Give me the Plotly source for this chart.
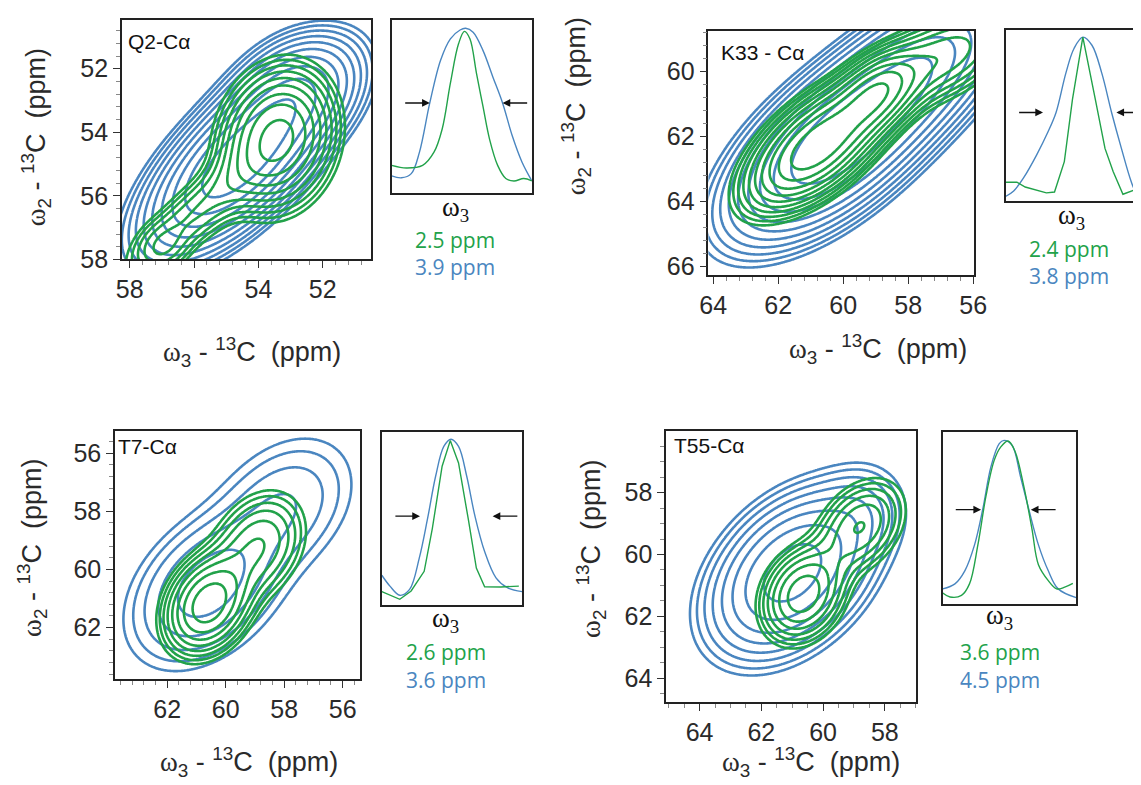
import numpy as np
import plotly.graph_objects as go

W, H = 1141, 785
BLUE = "#4a86c0"
GREEN = "#22a24a"
TXT = "#2a2a2a"

# ---------------- main 2D panels ----------------
PANEL_LABELS = ["Q2-Cα", "K33 - Cα", "T7-Cα", "T55-Cα"]
X_RANGES = [[58.24, 50.5], [64.15, 55.97], [63.78, 55.4], [65.08, 56.98]]
Y_RANGES = [[58.0, 50.46], [66.28, 58.75], [63.76, 55.25], [64.78, 56.02]]
MINOR_STEP = [0.4, 0.4, 0.4, 0.5]

# peak components (ppm): centre x, centre y, sigma major, sigma minor, angle (deg), amplitude
Q2_BLUE_X0 = [54.6, 52.7]; Q2_BLUE_Y0 = [54.9, 52.5]; Q2_BLUE_SMAJ = [2.3, 1.3]; Q2_BLUE_SMIN = [1.0, 1.0]
Q2_BLUE_ANG = [45, 30]; Q2_BLUE_AMP = [1.0, 0.3]; Q2_BLUE_LEV = [-1.02, -0.09, 10]
Q2_GREEN_X0 = [53.4, 56.0, 57.0]; Q2_GREEN_Y0 = [54.2, 56.6, 57.7]; Q2_GREEN_SMAJ = [1.25, 1.8, 0.5]
Q2_GREEN_SMIN = [0.95, 0.55, 0.5]; Q2_GREEN_ANG = [75, 42, 0]; Q2_GREEN_AMP = [1.0, 0.3, 0.12]
Q2_GREEN_LEV = [-1.0, -0.04, 9]

K33_BLUE_X0 = [60.3, 57.5]; K33_BLUE_Y0 = [62.3, 59.8]; K33_BLUE_SMAJ = [2.2, 2.0]; K33_BLUE_SMIN = [1.05, 1.0]
K33_BLUE_ANG = [40, 40]; K33_BLUE_AMP = [1.0, 0.6]; K33_BLUE_LEV = [-1.15, -0.1, 10]
K33_GREEN_X0 = [60.8, 58.9, 56.8]; K33_GREEN_Y0 = [62.3, 60.6, 59.5]; K33_GREEN_SMAJ = [1.6, 0.9, 1.5]
K33_GREEN_SMIN = [0.78, 0.6, 0.8]; K33_GREEN_ANG = [40, 45, 30]; K33_GREEN_AMP = [1.0, 0.5, 0.4]
K33_GREEN_LEV = [-0.92, -0.08, 10]

T7_BLUE_X0 = [60.6, 58.1]; T7_BLUE_Y0 = [60.6, 57.9]; T7_BLUE_SMAJ = [1.5, 1.5]; T7_BLUE_SMIN = [1.0, 1.05]
T7_BLUE_ANG = [45, 45]; T7_BLUE_AMP = [1.0, 0.42]; T7_BLUE_LEV = [-1.12, -0.14, 5]
T7_GREEN_X0 = [60.6, 58.9]; T7_GREEN_Y0 = [61.2, 59.2]; T7_GREEN_SMAJ = [0.95, 1.1]; T7_GREEN_SMIN = [0.7, 0.8]
T7_GREEN_ANG = [60, 60]; T7_GREEN_AMP = [1.0, 0.4]; T7_GREEN_LEV = [-1.15, -0.1, 8]

T55_BLUE_X0 = [61.0, 58.7]; T55_BLUE_Y0 = [60.6, 58.6]; T55_BLUE_SMAJ = [1.6, 0.9]; T55_BLUE_SMIN = [1.05, 0.8]
T55_BLUE_ANG = [45, 70]; T55_BLUE_AMP = [1.0, 0.12]; T55_BLUE_LEV = [-1.3, -0.1, 8]
T55_GREEN_X0 = [60.65, 58.8]; T55_GREEN_Y0 = [61.3, 59.1]; T55_GREEN_SMAJ = [0.9, 1.0]; T55_GREEN_SMIN = [0.7, 0.7]
T55_GREEN_ANG = [60, 50]; T55_GREEN_AMP = [1.0, 0.6]; T55_GREEN_LEV = [-0.9, -0.09, 7]

PEAKS = [
    ((Q2_BLUE_X0, Q2_BLUE_Y0, Q2_BLUE_SMAJ, Q2_BLUE_SMIN, Q2_BLUE_ANG, Q2_BLUE_AMP), Q2_BLUE_LEV,
     (Q2_GREEN_X0, Q2_GREEN_Y0, Q2_GREEN_SMAJ, Q2_GREEN_SMIN, Q2_GREEN_ANG, Q2_GREEN_AMP), Q2_GREEN_LEV),
    ((K33_BLUE_X0, K33_BLUE_Y0, K33_BLUE_SMAJ, K33_BLUE_SMIN, K33_BLUE_ANG, K33_BLUE_AMP), K33_BLUE_LEV,
     (K33_GREEN_X0, K33_GREEN_Y0, K33_GREEN_SMAJ, K33_GREEN_SMIN, K33_GREEN_ANG, K33_GREEN_AMP), K33_GREEN_LEV),
    ((T7_BLUE_X0, T7_BLUE_Y0, T7_BLUE_SMAJ, T7_BLUE_SMIN, T7_BLUE_ANG, T7_BLUE_AMP), T7_BLUE_LEV,
     (T7_GREEN_X0, T7_GREEN_Y0, T7_GREEN_SMAJ, T7_GREEN_SMIN, T7_GREEN_ANG, T7_GREEN_AMP), T7_GREEN_LEV),
    ((T55_BLUE_X0, T55_BLUE_Y0, T55_BLUE_SMAJ, T55_BLUE_SMIN, T55_BLUE_ANG, T55_BLUE_AMP), T55_BLUE_LEV,
     (T55_GREEN_X0, T55_GREEN_Y0, T55_GREEN_SMAJ, T55_GREEN_SMIN, T55_GREEN_ANG, T55_GREEN_AMP), T55_GREEN_LEV),
]

# ---------------- 1D slices (fractional positions inside inset frame) ----------------
I1_BX = [0, 0.070, 0.140, 0.198, 0.272, 0.349, 0.419, 0.488, 0.528, 0.581, 0.651, 0.721, 0.791, 0.860, 0.930, 1.0]
I1_BY = [0.097, 0.086, 0.110, 0.233, 0.519, 0.766, 0.890, 0.941, 0.951, 0.928, 0.823, 0.671, 0.519, 0.329, 0.176, 0.068]
I1_GX = [0, 0.105, 0.221, 0.302, 0.360, 0.419, 0.477, 0.519, 0.558, 0.605, 0.651, 0.698, 0.756, 0.814, 0.872, 0.942, 1.0]
I1_GY = [0.158, 0.143, 0.158, 0.234, 0.367, 0.633, 0.861, 0.933, 0.890, 0.690, 0.500, 0.310, 0.158, 0.082, 0.067, 0.082, 0.068]

I2_BX = [0, 0.058, 0.128, 0.221, 0.302, 0.360, 0.430, 0.488, 0.551, 0.616, 0.686, 0.756, 0.826, 0.895, 0.926, 1.0]
I2_BY = [0.029, 0.061, 0.137, 0.270, 0.404, 0.518, 0.747, 0.890, 0.956, 0.909, 0.747, 0.518, 0.309, 0.118, 0.061, 0.013]
I2_GX = [0, 0.081, 0.140, 0.221, 0.291, 0.349, 0.419, 0.477, 0.551, 0.640, 0.709, 0.767, 0.837, 0.926, 1.0]
I2_GY = [0.112, 0.112, 0.084, 0.067, 0.050, 0.055, 0.232, 0.594, 0.956, 0.594, 0.309, 0.175, 0.042, 0.070, 0.090]

I3_BX = [0, 0.058, 0.128, 0.198, 0.267, 0.326, 0.384, 0.442, 0.493, 0.547, 0.605, 0.663, 0.733, 0.814, 0.895, 1.0]
I3_BY = [0.173, 0.110, 0.057, 0.091, 0.272, 0.500, 0.747, 0.918, 0.960, 0.918, 0.747, 0.519, 0.310, 0.158, 0.101, 0.078]
I3_GX = [0, 0.128, 0.209, 0.302, 0.360, 0.430, 0.488, 0.547, 0.616, 0.674, 0.733, 0.849, 0.977]
I3_GY = [0.078, 0.034, 0.082, 0.196, 0.443, 0.804, 0.952, 0.823, 0.500, 0.215, 0.106, 0.105, 0.110]

I4_BX = [0, 0.091, 0.165, 0.238, 0.300, 0.361, 0.423, 0.459, 0.520, 0.582, 0.644, 0.717, 0.791, 0.865, 1.0]
I4_BY = [0.089, 0.118, 0.194, 0.345, 0.554, 0.800, 0.934, 0.953, 0.924, 0.744, 0.554, 0.345, 0.194, 0.089, 0.038]
I4_GX = [0, 0.054, 0.140, 0.200, 0.263, 0.324, 0.386, 0.435, 0.489, 0.538, 0.607, 0.668, 0.717, 0.791, 0.853, 0.914, 0.975]
I4_GY = [0.065, 0.042, 0.051, 0.118, 0.345, 0.630, 0.838, 0.915, 0.949, 0.896, 0.687, 0.440, 0.230, 0.137, 0.089, 0.099, 0.121]

INSET_CURVES = [(I1_BX, I1_BY, I1_GX, I1_GY, "spline", "spline"),
                (I2_BX, I2_BY, I2_GX, I2_GY, "spline", "linear"),
                (I3_BX, I3_BY, I3_GX, I3_GY, "spline", "linear"),
                (I4_BX, I4_BY, I4_GX, I4_GY, "spline", "spline")]
# arrows: y level, left tail, left tip, right tail, right tip
ARROWS = [(0.519, 0.086, 0.272, 0.977, 0.791),
          (0.518, 0.086, 0.267, 1.06, 0.79),
          (0.515, 0.086, 0.272, 0.977, 0.79),
          (0.550, 0.086, 0.287, 0.857, 0.66)]
GREEN_WIDTH = ["2.5 ppm", "2.4 ppm", "2.6 ppm", "3.6 ppm"]
BLUE_WIDTH = ["3.9 ppm", "3.8 ppm", "3.6 ppm", "4.5 ppm"]

# ---------------- layout geometry (pixels) ----------------
PANEL_BOX = [(107, 361, 12, 256), (705, 976, 23, 272), (100, 350, 431, 683), (662, 917, 431, 707)]
INSET_BOX = [(382, 525, 12, 188), (1008, 1141, 22, 197), (372, 515, 432, 608), (944, 1080, 432, 607)]
INSET_XMAX = [1.0, (1141 - 1008) / 143.0, 1.0, 1.0]
LABEL_POS = [(111, 34), (716, 45), (101, 446), (668, 445)]
YTITLE_POS = [(19, 132), (570, 100), (15, 550), (585, 551)]
XTITLE_POS = [(240, 350), (878, 347), (237, 768), (810, 768)]
OMEGA_POS = [(447, 205), (1075, 213), (437, 623), (1002, 620)]
WIDTH_TXT_X = [447, 1073, 437, 1002]
WIDTH_TXT_Y = [(236, 264), (245, 273), (656, 684), (656, 684)]


def px(x):
    return x / W


def py(y):
    return 1 - y / H


def field(X, Y, comps):
    x0s, y0s, sma, smi, ang, amp = comps
    Z = np.zeros_like(X)
    for a, b, s1, s2, t, A in zip(x0s, y0s, sma, smi, ang, amp):
        th = np.deg2rad(t)
        dx, dy = X - a, Y - b
        u = dx * np.cos(th) + dy * np.sin(th)
        v = -dx * np.sin(th) + dy * np.cos(th)
        Z += A * np.exp(-0.5 * ((u / s1) ** 2 + (v / s2) ** 2))
    return np.log10(Z + 1e-12)


fig = go.Figure()
ann = []

for i in range(4):
    ax_main = 2 * i + 1
    ax_ins = 2 * i + 2
    xr, yr = X_RANGES[i], Y_RANGES[i]
    xs = np.linspace(min(xr) - 1, max(xr) + 1, 260)
    ys = np.linspace(min(yr) - 1, max(yr) + 1, 260)
    X, Y = np.meshgrid(xs, ys)
    bcomp, blev, gcomp, glev = PEAKS[i]
    for comps, lev, col in ((bcomp, blev, BLUE), (gcomp, glev, GREEN)):
        Z = field(X, Y, comps)
        size = (lev[1] - lev[0]) / (lev[2] - 1)
        fig.add_trace(go.Contour(
            x=xs, y=ys, z=Z, xaxis=f"x{ax_main}", yaxis=f"y{ax_main}",
            autocontour=False,
            contours=dict(start=lev[0], end=lev[1] + 1e-6, size=size, coloring="lines"),
            colorscale=[[0, col], [1, col]], showscale=False,
            line=dict(width=2.6, smoothing=1.0), hoverinfo="skip"))

    bx, by, gx, gy, bshape, gshape = INSET_CURVES[i]
    fig.add_trace(go.Scatter(x=bx, y=by, mode="lines", line=dict(color=BLUE, width=1.4, shape=bshape),
                             xaxis=f"x{ax_ins}", yaxis=f"y{ax_ins}", hoverinfo="skip", cliponaxis=True))
    fig.add_trace(go.Scatter(x=gx, y=gy, mode="lines", line=dict(color=GREEN, width=1.4, shape=gshape),
                             xaxis=f"x{ax_ins}", yaxis=f"y{ax_ins}", hoverinfo="skip", cliponaxis=True))

    x0, x1, y0, y1 = PANEL_BOX[i]
    tickfont = dict(family="Liberation Sans, Arial", size=25, color=TXT)
    fig.layout[f"xaxis{ax_main}"] = dict(
        domain=[px(x0), px(x1)], range=xr, anchor=f"y{ax_main}", tick0=0, dtick=2,
        ticks="outside", ticklen=7, tickwidth=1.3, tickcolor="#333",
        minor=dict(dtick=MINOR_STEP[i], ticks="outside", ticklen=4, tickcolor="#888", tickwidth=1),
        showline=True, mirror=True, linecolor="#222", linewidth=1.6,
        showgrid=False, zeroline=False, tickfont=tickfont)
    fig.layout[f"yaxis{ax_main}"] = dict(
        domain=[py(y1), py(y0)], range=yr, anchor=f"x{ax_main}", tick0=0, dtick=2,
        ticks="outside", ticklen=7, tickwidth=1.3, tickcolor="#333",
        minor=dict(dtick=MINOR_STEP[i], ticks="outside", ticklen=4, tickcolor="#888", tickwidth=1),
        showline=True, mirror=True, linecolor="#222", linewidth=1.6,
        showgrid=False, zeroline=False, tickfont=tickfont)

    ix0, ix1, iy0, iy1 = INSET_BOX[i]
    fig.layout[f"xaxis{ax_ins}"] = dict(
        domain=[px(ix0), min(px(ix1), 1.0)], range=[0, INSET_XMAX[i]], anchor=f"y{ax_ins}",
        showticklabels=False, ticks="", showline=True, mirror=True, linecolor="#222", linewidth=1.6,
        showgrid=False, zeroline=False)
    fig.layout[f"yaxis{ax_ins}"] = dict(
        domain=[py(iy1), py(iy0)], range=[0, 1], anchor=f"x{ax_ins}",
        showticklabels=False, ticks="", showline=True, mirror=(i != 1), linecolor="#222", linewidth=1.6,
        showgrid=False, zeroline=False)

    yl, ltail, ltip, rtail, rtip = ARROWS[i]
    for tail, tip in ((ltail, ltip), (rtail, rtip)):
        ann.append(dict(x=tip, y=yl, ax=tail, ay=yl, xref=f"x{ax_ins}", yref=f"y{ax_ins}",
                        axref=f"x{ax_ins}", ayref=f"y{ax_ins}", showarrow=True, arrowhead=2,
                        arrowsize=1.1, arrowwidth=1.4, arrowcolor="#111", text=""))

    # labels
    lx, ly = LABEL_POS[i]
    ann.append(dict(x=px(lx), y=py(ly), xref="paper", yref="paper", text=PANEL_LABELS[i],
                    showarrow=False, xanchor="left", yanchor="middle",
                    font=dict(family="Liberation Sans, Arial", size=21, color="#111")))
    title = ('<span style="font-family:Liberation Serif">ω</span><sub>3</sub> - '
             '<sup>13</sup>C\u00a0\u00a0(ppm)')
    ytitle = ('<span style="font-family:Liberation Serif">ω</span><sub>2</sub> - '
              '<sup>13</sup>C\u00a0\u00a0(ppm)')
    tx, ty = XTITLE_POS[i]
    ann.append(dict(x=px(tx), y=py(ty), xref="paper", yref="paper", text=title, showarrow=False,
                    xanchor="center", yanchor="middle",
                    font=dict(family="Liberation Sans, Arial", size=27, color=TXT)))
    tx, ty = YTITLE_POS[i]
    ann.append(dict(x=px(tx), y=py(ty), xref="paper", yref="paper", text=ytitle, showarrow=False,
                    xanchor="center", yanchor="middle", textangle=-90,
                    font=dict(family="Liberation Sans, Arial", size=27, color=TXT)))
    ox, oy = OMEGA_POS[i]
    ann.append(dict(x=px(ox), y=py(oy), xref="paper", yref="paper", text="ω<sub>3</sub>",
                    showarrow=False, xanchor="center", yanchor="middle",
                    font=dict(family="Liberation Serif, Times New Roman", size=27, color="#111")))
    wx = WIDTH_TXT_X[i]
    gy_, by_ = WIDTH_TXT_Y[i]
    ann.append(dict(x=px(wx), y=py(gy_), xref="paper", yref="paper", text=GREEN_WIDTH[i],
                    showarrow=False, xanchor="center", yanchor="middle",
                    font=dict(family="Open Sans, Liberation Sans", size=21, color=GREEN)))
    ann.append(dict(x=px(wx), y=py(by_), xref="paper", yref="paper", text=BLUE_WIDTH[i],
                    showarrow=False, xanchor="center", yanchor="middle",
                    font=dict(family="Open Sans, Liberation Sans", size=21, color=BLUE)))

fig.update_layout(width=W, height=H, margin=dict(l=0, r=0, t=0, b=0), autosize=False,
                  paper_bgcolor="white", plot_bgcolor="white", showlegend=False, annotations=ann)
fig.write_html("out.html", config={"displayModeBar": False})
